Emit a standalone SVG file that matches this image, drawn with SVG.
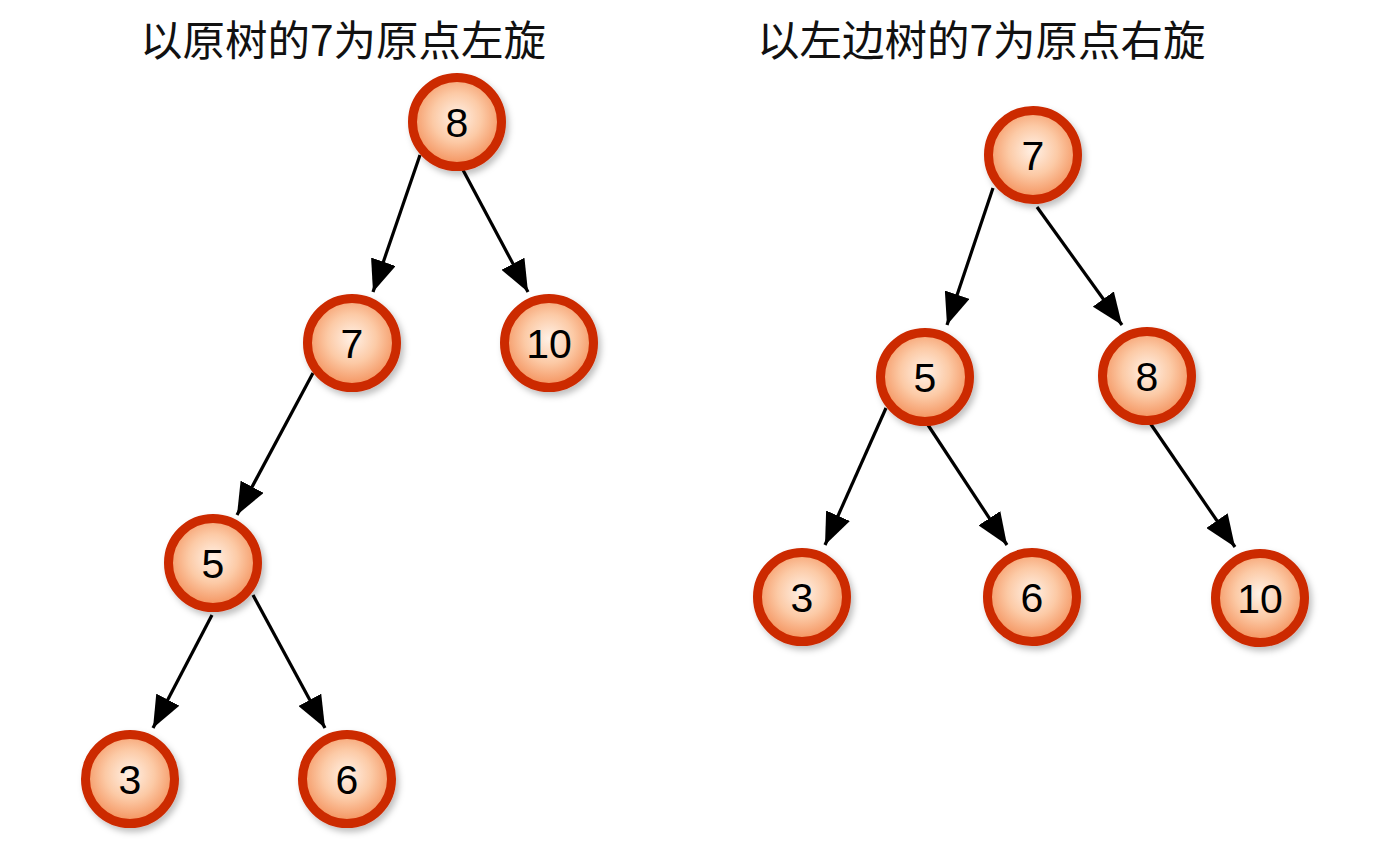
<svg xmlns="http://www.w3.org/2000/svg" width="1374" height="846" viewBox="0 0 1374 846">
<defs>
<radialGradient id="g" cx="50%" cy="45%" r="55%">
<stop offset="0" stop-color="#fff1e6"/>
<stop offset="0.5" stop-color="#fccaa6"/>
<stop offset="1" stop-color="#f38e58"/>
</radialGradient>
<filter id="sh" x="-30%" y="-30%" width="160%" height="160%">
<feDropShadow dx="3" dy="4" stdDeviation="3" flood-color="#000" flood-opacity="0.25"/>
</filter>
<marker id="ah" markerUnits="userSpaceOnUse" markerWidth="32" markerHeight="26" refX="32" refY="13" orient="auto">
<path d="M0,0 L32,13 L0,26 z" fill="#000"/>
</marker>
<style>
.n circle{fill:url(#g);stroke:#cc2a00;stroke-width:9;filter:url(#sh)}
.n text{font-family:"Liberation Sans",Arial,sans-serif;font-size:41px;fill:#000;text-anchor:middle}
.t{font-family:"Noto Sans CJK SC","Noto Sans CJK JP",sans-serif;font-size:42.5px;fill:#111}
#edges line{stroke:#000;stroke-width:3.2;marker-end:url(#ah)}
</style>
</defs>
<rect width="1374" height="846" fill="#fff"/>
<text class="t" x="140" y="56">以原树的7为原点左旋</text>
<text class="t" x="757" y="56">以左边树的7为原点右旋</text>
<g id="edges">
<line x1="420" y1="155" x2="373" y2="292"/>
<line x1="463" y1="170" x2="528" y2="292"/>
<line x1="313" y1="373" x2="237" y2="515"/>
<line x1="212" y1="615" x2="153" y2="728"/>
<line x1="253" y1="595" x2="325" y2="728"/>
<line x1="993" y1="188" x2="947" y2="325"/>
<line x1="1037" y1="207" x2="1122" y2="325"/>
<line x1="886" y1="408" x2="825" y2="545"/>
<line x1="928" y1="425" x2="1007" y2="545"/>
<line x1="1150" y1="423" x2="1235" y2="547"/>
</g>
<g id="L8" class="n"><circle cx="457" cy="122" r="44.5"/><text x="457" y="137">8</text></g>
<g id="L7" class="n"><circle cx="352" cy="343" r="44.5"/><text x="352" y="358">7</text></g>
<g id="L10" class="n"><circle cx="549" cy="343" r="44.5"/><text x="549" y="358">10</text></g>
<g id="L5" class="n"><circle cx="213" cy="563" r="44.5"/><text x="213" y="578">5</text></g>
<g id="L3" class="n"><circle cx="130" cy="779" r="44.5"/><text x="130" y="794">3</text></g>
<g id="L6" class="n"><circle cx="347" cy="779" r="44.5"/><text x="347" y="794">6</text></g>
<g id="R7" class="n"><circle cx="1033" cy="155" r="44.5"/><text x="1033" y="170">7</text></g>
<g id="R5" class="n"><circle cx="925" cy="377" r="44.5"/><text x="925" y="392">5</text></g>
<g id="R8" class="n"><circle cx="1147" cy="376" r="44.5"/><text x="1147" y="391">8</text></g>
<g id="R3" class="n"><circle cx="802" cy="597" r="44.5"/><text x="802" y="612">3</text></g>
<g id="R6" class="n"><circle cx="1032" cy="597" r="44.5"/><text x="1032" y="612">6</text></g>
<g id="R10" class="n"><circle cx="1260" cy="598" r="44.5"/><text x="1260" y="613">10</text></g>
</svg>
